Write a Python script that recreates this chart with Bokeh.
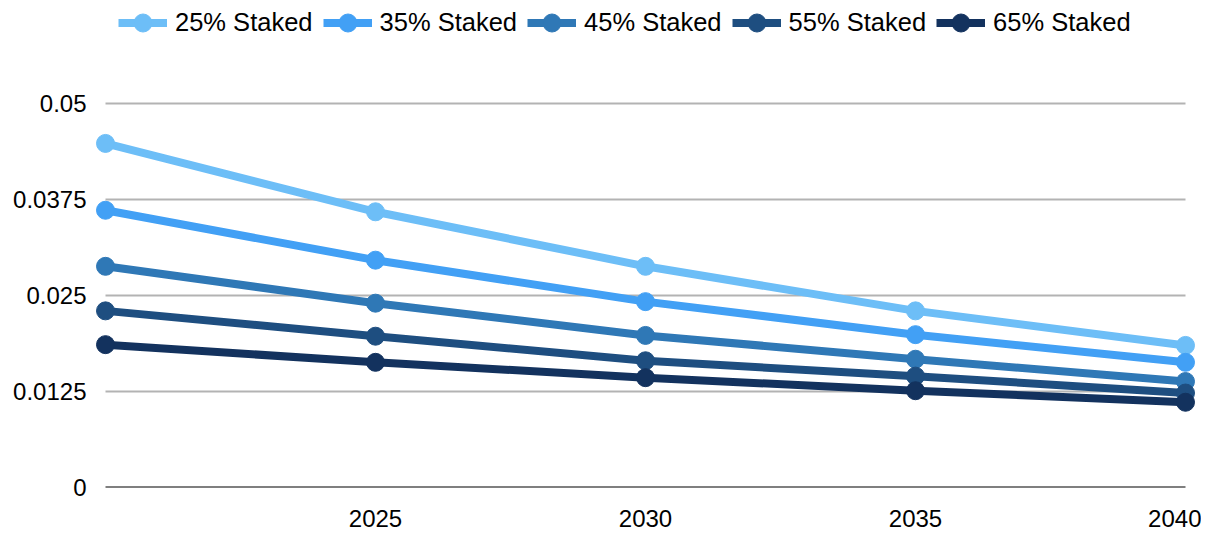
from bokeh.plotting import figure
from bokeh.models import Range1d, FixedTicker, CustomJSTickFormatter, Legend, LegendItem
from bokeh.embed import file_html
from bokeh.resources import INLINE

years = [2020, 2025, 2030, 2035, 2040]
series_names = ["25% Staked", "35% Staked", "45% Staked", "55% Staked", "65% Staked"]
staked_25 = [0.0448, 0.0359, 0.0288, 0.0230, 0.0185]
staked_35 = [0.0361, 0.0296, 0.0242, 0.0199, 0.0163]
staked_45 = [0.0288, 0.0240, 0.0198, 0.0167, 0.0138]
staked_55 = [0.0230, 0.0197, 0.0165, 0.0145, 0.0123]
staked_65 = [0.0186, 0.0163, 0.0143, 0.0126, 0.0111]
series_values = [staked_25, staked_35, staked_45, staked_55, staked_65]
colors = ["#6DBEF7", "#42A0F5", "#2F78B6", "#1E4E80", "#13325E"]
y_ticks = [0, 0.0125, 0.025, 0.0375, 0.05]
x_ticks = [2025, 2030, 2035, 2040]

FONT = "Liberation Sans"
pad = 11 / 54
# frame spans the full height above the x axis so the legend (drawn in the frame) is not clipped
y_top = y_ticks[-1] * 487 / 384

p = figure(width=1201, height=533, output_backend="svg", toolbar_location=None,
           x_range=Range1d(years[0] - pad, years[-1] + pad), y_range=Range1d(0, y_top),
           min_border_left=94, min_border_right=5, min_border_top=0, min_border_bottom=46)
p.outline_line_color = None
p.background_fill_color = "white"
p.border_fill_color = "white"
p.xgrid.visible = False
p.ygrid.visible = False

# horizontal gridlines across the data span
p.multi_line(xs=[[years[0], years[-1]] for _ in y_ticks[1:]], ys=[[t, t] for t in y_ticks[1:]],
             line_color="#b3b3b3", line_width=2)
# baseline
p.line(x=[years[0], years[-1]], y=[0, 0], line_color="black", line_width=2)

items = []
for name, vals, c in zip(series_names, series_values, colors):
    l = p.line(years, vals, line_color=c, line_width=8, line_join="round")
    s = p.scatter(years, vals, size=18, fill_color=c, line_color=c, marker="circle")
    items.append(LegendItem(label=name, renderers=[l, s]))

p.xaxis.ticker = FixedTicker(ticks=x_ticks)
p.yaxis.ticker = FixedTicker(ticks=y_ticks)
p.yaxis.formatter = CustomJSTickFormatter(code="return tick.toString();")
for ax in (p.xaxis, p.yaxis):
    ax.axis_line_color = None
    ax.major_tick_line_color = None
    ax.minor_tick_line_color = None
    ax.major_label_text_font = FONT
    ax.major_label_text_font_size = "24px"
    ax.major_label_text_color = "black"
p.yaxis.major_label_standoff = 2
p.xaxis.major_label_standoff = 16

legend = Legend(items=items, orientation="horizontal", location=(24, 442),
                padding=0, margin=0, spacing=10, label_standoff=8,
                glyph_width=49, glyph_height=45,
                label_text_font=FONT, label_text_font_size="25.5px",
                label_text_color="black",
                background_fill_alpha=0, border_line_color=None)
p.add_layout(legend, "center")

open("out.html", "w").write(file_html(p, INLINE))
